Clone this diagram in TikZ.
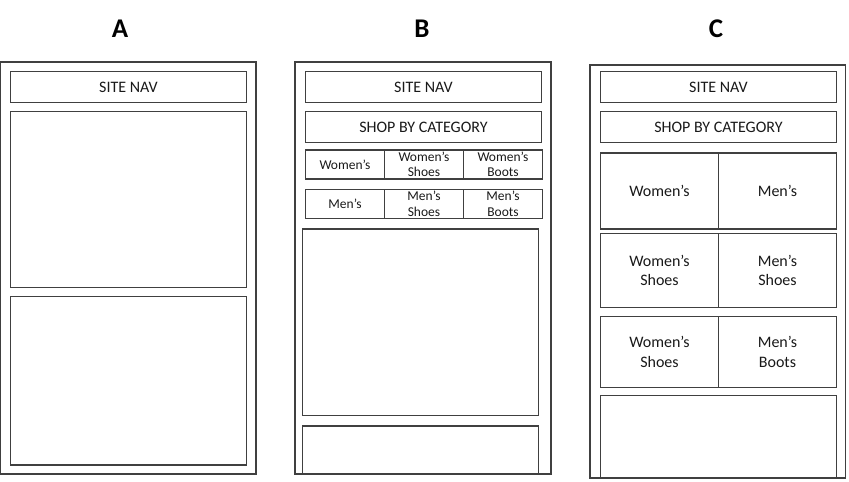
\documentclass[tikz,border=0pt]{standalone}
\usepackage{fontspec}
\setmainfont{Carlito}
\usetikzlibrary{positioning}

\begin{document}
\begin{tikzpicture}[x=1pt,y=-1pt,
    frame/.style={draw=black!75,line width=1.1pt},
    box/.style={frame,anchor=north west,inner sep=0pt,outer sep=0pt,align=center,text=black!90,
      font=\fontsize{16}{19.5}\selectfont},
    cell/.style={box,font=\fontsize{13.5}{15.5}\selectfont},
    title/.style={font=\fontsize{27}{30}\selectfont\bfseries}]
  \useasboundingbox (0,0) rectangle (849,482);

  % titles
  \node[title] (tA) at (120,29) {A};
  \node[title] (tB) at (422,29) {B};
  \node[title] (tC) at (716,29) {C};

  % A
  \draw[frame] (0.5,62) rectangle (256,474);
  \node[box,minimum width=236pt,minimum height=31pt] (aNav) at (10.5,71.5) {SITE NAV};
  \draw[frame] (10.5,111.5) rectangle (246.5,287.5);
  \draw[frame] (10.5,296.5) rectangle (246.5,465);

  % B
  \draw[frame] (295,62) rectangle (551,474);
  \node[box,minimum width=236pt,minimum height=31pt] (bNav) at (305.5,71.5) {SITE NAV};
  \node[box,minimum width=236pt,minimum height=31pt] (bShop) at (305.5,111.5) {SHOP BY CATEGORY};
  \foreach \i/\txt in {0/Women’s,1/{Women’s\\Shoes},2/{Women’s\\Boots}}
    \node[cell,minimum width=79pt,minimum height=29pt] (bw\i) at (305.5+79*\i,150) {\txt};
  \foreach \i/\txt in {0/Men’s,1/{Men’s\\Shoes},2/{Men’s\\Boots}}
    \node[cell,minimum width=79pt,minimum height=29pt] (bm\i) at (305.5+79*\i,189.5) {\txt};
  \draw[frame] (302.5,229) rectangle (538.5,415.5);
  \draw[frame] (302.5,474) |- (538.5,426) -- (538.5,474);

  % C
  \draw[frame] (590,65) rectangle (845.5,478);
  \node[box,minimum width=236pt,minimum height=31pt] (cNav) at (600.5,71.5) {SITE NAV};
  \node[box,minimum width=236pt,minimum height=31pt] (cShop) at (600.5,111.5) {SHOP BY CATEGORY};
  \foreach \r/\y/\h/\left/\right in {1/153/76/Women’s/Men’s,
      2/233.5/74/{Women’s\\Shoes}/{Men’s\\Shoes},
      3/316.5/71/{Women’s\\Shoes}/{Men’s\\Boots}} {
    \node[box,minimum width=118pt,minimum height=\h pt] (cl\r) at (600.5,\y) {\left};
    \node[box,minimum width=118pt,minimum height=\h pt] (cr\r) at (718.5,\y) {\right};
  }
  \draw[frame] (600.5,478) |- (836.5,395.5) -- (836.5,478);
\end{tikzpicture}
\end{document}
